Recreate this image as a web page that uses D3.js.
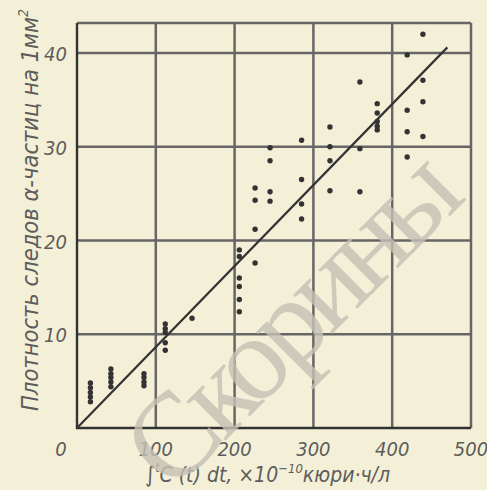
<!DOCTYPE html>
<html>
<head>
<meta charset="utf-8">
<script src="https://cdn.jsdelivr.net/npm/d3@7"></script>
<style>
  body { margin: 0; background: #f4f0d8; }
  svg { display: block; }
  .tick-label, .axis-title { font-family: "DejaVu Sans Condensed", "Liberation Sans Narrow", sans-serif; font-style: italic; fill: #5c5c5c; }
</style>
</head>
<body>
<div id="chart"></div>
<script>
// columns of measurements: x value and the track densities read at that x
var xGroups = [17, 43, 85, 112, 146, 206, 226, 245, 285, 321, 359, 381, 419, 439];
var yGroups = [
    [4.8, 4.3, 3.8, 3.3, 2.8],
    [6.3, 5.8, 5.4, 4.9, 4.4],
    [5.8, 5.4, 4.9, 4.5],
    [11.1, 10.6, 10.2, 9.1, 8.3],
    [11.7],
    [19.0, 18.3, 16.0, 15.1, 13.7, 12.4],
    [25.6, 24.3, 21.2, 17.6],
    [29.9, 28.5, 25.2, 24.2],
    [30.7, 26.5, 23.9, 22.3],
    [32.1, 30.0, 28.5, 25.3],
    [36.9, 29.8, 25.2],
    [34.6, 33.6, 32.7, 32.2, 31.8],
    [39.8, 33.9, 31.6, 28.9],
    [42.0, 37.1, 34.8, 31.1]
];
// fitted straight line
var fitLine = [[0, 0], [470, 40.6]];
var xTicks = [0, 100, 200, 300, 400, 500];
var yTicks = [10, 20, 30, 40];

var svgWidth = 487, svgHeight = 490;
var margin = { top: 23, right: 16, bottom: 62, left: 77 };
var chartWidth = svgWidth - margin.left - margin.right;
var chartHeight = svgHeight - margin.top - margin.bottom;

var svg = d3.select("#chart").append("svg")
    .attr("width", svgWidth)
    .attr("height", svgHeight);

var chartGroup = svg.append("g")
    .attr("transform", `translate(${margin.left}, ${margin.top})`);

var xScale = d3.scaleLinear().domain([0, 500]).range([0, chartWidth]);
var yScale = d3.scaleLinear().domain([0, 43.2]).range([chartHeight, 0]);

var points = [];
xGroups.forEach(function(x, i) {
    yGroups[i].forEach(function(y) { points.push({ x: x, y: y }); });
});

// grid lines, plus the top and right edges of the frame
chartGroup.selectAll("line.vgrid")
    .data(xTicks.slice(1))
    .enter().append("line")
    .attr("class", "vgrid")
    .attr("x1", d => xScale(d)).attr("x2", d => xScale(d))
    .attr("y1", 0).attr("y2", chartHeight)
    .style("stroke", "#666")
    .style("stroke-width", "2.5px");

chartGroup.selectAll("line.hgrid")
    .data(yTicks.concat([43.2]))
    .enter().append("line")
    .attr("class", "hgrid")
    .attr("x1", 0).attr("x2", chartWidth)
    .attr("y1", d => yScale(d)).attr("y2", d => yScale(d))
    .style("stroke", "#666")
    .style("stroke-width", "2.5px");

chartGroup.append("path")
    .attr("d", `M0,0V${chartHeight}H${chartWidth}`)
    .attr("fill", "none").attr("stroke", "#333").attr("stroke-width", 2.4);

// tick labels
chartGroup.append("g").selectAll("text")
    .data(xTicks)
    .enter().append("text")
    .attr("class", "tick-label")
    .attr("x", d => d === 0 ? xScale(d) - 16 : xScale(d))
    .attr("y", chartHeight + 28)
    .attr("text-anchor", "middle")
    .attr("font-size", 20)
    .text(d => d);

chartGroup.append("g").selectAll("text")
    .data(yTicks)
    .enter().append("text")
    .attr("class", "tick-label")
    .attr("x", -10)
    .attr("y", d => yScale(d) + 8)
    .attr("text-anchor", "end")
    .attr("font-size", 20)
    .text(d => d);

// fitted line
var line = d3.line().x(d => xScale(d[0])).y(d => yScale(d[1]));
chartGroup.append("path")
    .datum(fitLine)
    .attr("d", line)
    .attr("fill", "none").attr("stroke", "#333").attr("stroke-width", 2.2);

// points
chartGroup.selectAll("circle")
    .data(points)
    .enter().append("circle")
    .attr("cx", d => xScale(d.x))
    .attr("cy", d => yScale(d.y))
    .attr("r", 2.7)
    .attr("fill", "#333");

// axis titles
var xTitle = svg.append("text")
    .attr("class", "axis-title")
    .attr("x", 145).attr("y", 482)
    .attr("font-size", 21);
xTitle.append("tspan").attr("font-size", 22).text("∫");
xTitle.append("tspan").attr("font-size", 12).attr("dy", -10).text("t");
xTitle.append("tspan").attr("dy", 10).text("C (t) dt, ×10");
xTitle.append("tspan").attr("font-size", 13).attr("dy", -9).text("−10");
xTitle.append("tspan").attr("dy", 9).text("кюри·ч/л");

var yTitle = svg.append("text")
    .attr("class", "axis-title")
    .attr("transform", "translate(38, 210) rotate(-90)")
    .attr("text-anchor", "middle")
    .attr("font-size", 23.5);
yTitle.append("tspan").text("Плотность  следов  α-частиц  на  1мм");
yTitle.append("tspan").attr("font-size", 14).attr("dy", -10).text("2");

// watermark
svg.append("text")
    .attr("transform", "translate(172, 494) rotate(-45)")
    .attr("font-family", "Liberation Serif, serif")
    .attr("font-size", 120)
    .attr("letter-spacing", -7)
    .attr("fill", "#c4c1b4")
    .attr("fill-opacity", 0.8)
    .text("Скорины");
</script>
</body>
</html>
